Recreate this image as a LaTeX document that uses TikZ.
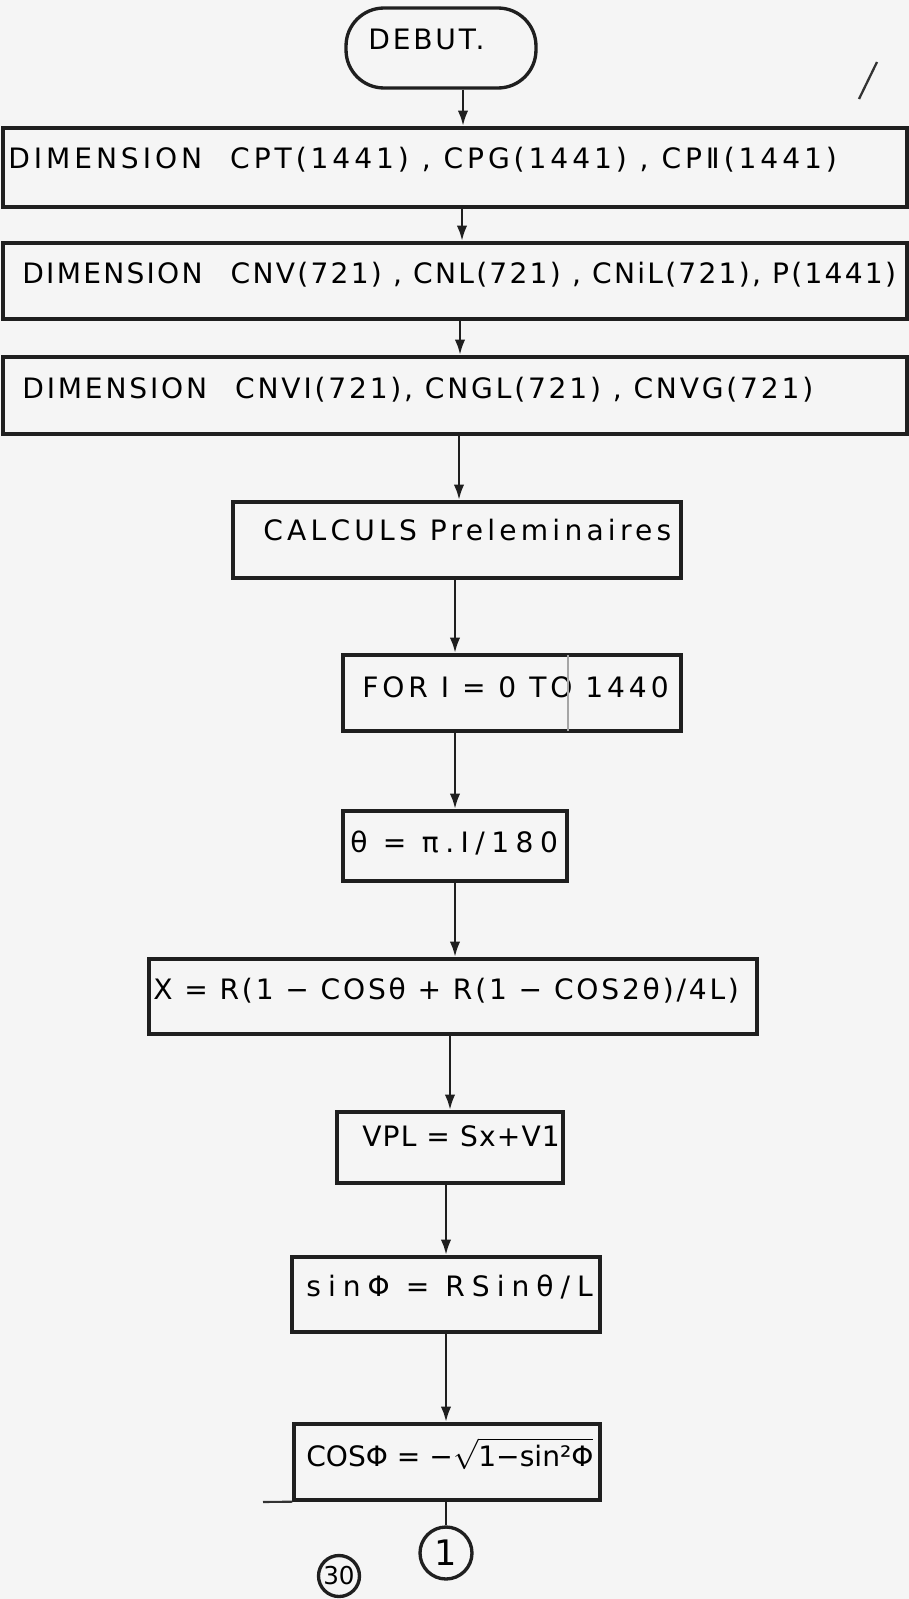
\documentclass[tikz,border=0pt]{standalone}
\usepackage{fontspec}
\usepackage{amsmath}
\setmainfont{DejaVu Sans}
\usetikzlibrary{arrows.meta,calc}
% a box given by its corners, in 1/50 cm units (y grows downwards)
\newcommand\flowbox[5]{%
  \node[box, minimum width={(#4-#2)*0.02cm}, minimum height={(#5-#3)*0.02cm}]
    (#1) at ({(#2+#4)/2},{(#3+#5)/2}) {};}
% text set with extra letter spacing
\newcommand\spaced[2]{{\addfontfeature{LetterSpace=#1}#2}}
\begin{document}
\begin{tikzpicture}[x=0.02cm,y=-0.02cm,
  ink/.style={line width=1.9pt, draw=black!88},
  box/.style={ink, inner sep=0pt},
  term/.style={ink, rounded corners=0.76cm, inner sep=0pt},
  conn/.style={ink, circle, inner sep=0pt},
  txt/.style={anchor=base west, inner sep=0pt, font=\fontsize{16}{19}\selectfont},
  arr/.style={line width=1.7pt, draw=black!88, -{Latex[length=9pt,width=6pt]}},
  link/.style={line width=1.7pt, draw=black!88},
]
\fill[black!4] (0,0) rectangle (909,1599);
\useasboundingbox (0,0) rectangle (909,1599);

% start terminal
\node[term, minimum width=3.8cm, minimum height=1.6cm] (debut) at (441,48) {};
\node[txt] (tdebut) at (368,50) {\spaced{10}{DEBUT.}};

% declaration boxes
\flowbox{b1}{3}{128}{907}{207}
\flowbox{b2}{3}{243}{907}{319}
\flowbox{b3}{3}{357}{907}{434}
\node[txt] (t1) at (8,168) {\spaced{14}{DIMENSION\quad CPT(1441) , CPG(1441) , CPⅡ(1441)}};
\node[txt] (t2) at (22,283) {\spaced{8}{DIMENSION\quad CNV(721) , CNL(721) , CNiL(721), P(1441)}};
\node[txt] (t3) at (22,398) {\spaced{10}{DIMENSION\quad CNVI(721), CNGL(721) , CNVG(721)}};

% computation boxes
\flowbox{b4}{233}{502}{681}{578}
\flowbox{b5}{343}{655}{681}{731}
\flowbox{b6}{343}{811}{567}{881}
\flowbox{b7}{149}{959}{757}{1034}
\flowbox{b8}{337}{1112}{563}{1183}
\flowbox{b9}{292}{1257}{600}{1332}
\flowbox{b10}{294}{1424}{600}{1500}
\node[txt] (t4) at (263,540) {\spaced{15}{CALCULS Preleminaires}};
\node[txt] (t5) at (362,697) {\spaced{14}{FOR I = 0 TO 1440}};
\node[txt] (t6) at (350,852) {\spaced{23}{θ = π.I/180}};
\node[txt] (t7) at (153,999) {\spaced{10}{X = R(1 − COSθ + R(1 − COS2θ)/4L)}};
\node[txt] (t8) at (362,1146) {\spaced{4}{VPL = Sx+V1}};
\node[txt] (t9) at (306,1296) {\spaced{25}{sinΦ = RSinθ/L}};
\node[txt] (t10) at (306,1466) {COSΦ = −\(\sqrt{\text{1−sin²Φ}}\)};

% off-page connector and page number
\node[conn, minimum size=1.04cm] (c1) at (446,1553) {\fontsize{20}{24}\selectfont 1};
\node[conn, minimum size=0.82cm] (p30) at (339,1576) {\fontsize{14}{17}\selectfont 30};

% flow lines
\draw[arr] (463,0 |- debut.south) -- (463,0 |- b1.north);
\draw[arr] (462,0 |- b1.south) -- (462,0 |- b2.north);
\draw[arr] (460,0 |- b2.south) -- (460,0 |- b3.north);
\draw[arr] (459,0 |- b3.south) -- (459,0 |- b4.north);
\draw[arr] (455,0 |- b4.south) -- (455,0 |- b5.north);
\draw[arr] (455,0 |- b5.south) -- (455,0 |- b6.north);
\draw[arr] (455,0 |- b6.south) -- (455,0 |- b7.north);
\draw[arr] (450,0 |- b7.south) -- (450,0 |- b8.north);
\draw[arr] (446,0 |- b8.south) -- (446,0 |- b9.north);
\draw[arr] (446,0 |- b9.south) -- (446,0 |- b10.north);
\draw[link] (b10.south -| c1) -- (c1.north);

% stray pen strokes
\draw[line width=1.3pt, black!80] (859,99) -- (877,62);
\draw[line width=1.2pt, black!80] (263,1502) -- (b10.south west);
\draw[line width=0.6pt, black!35] (568,655) -- (568,731);
\end{tikzpicture}
\end{document}
